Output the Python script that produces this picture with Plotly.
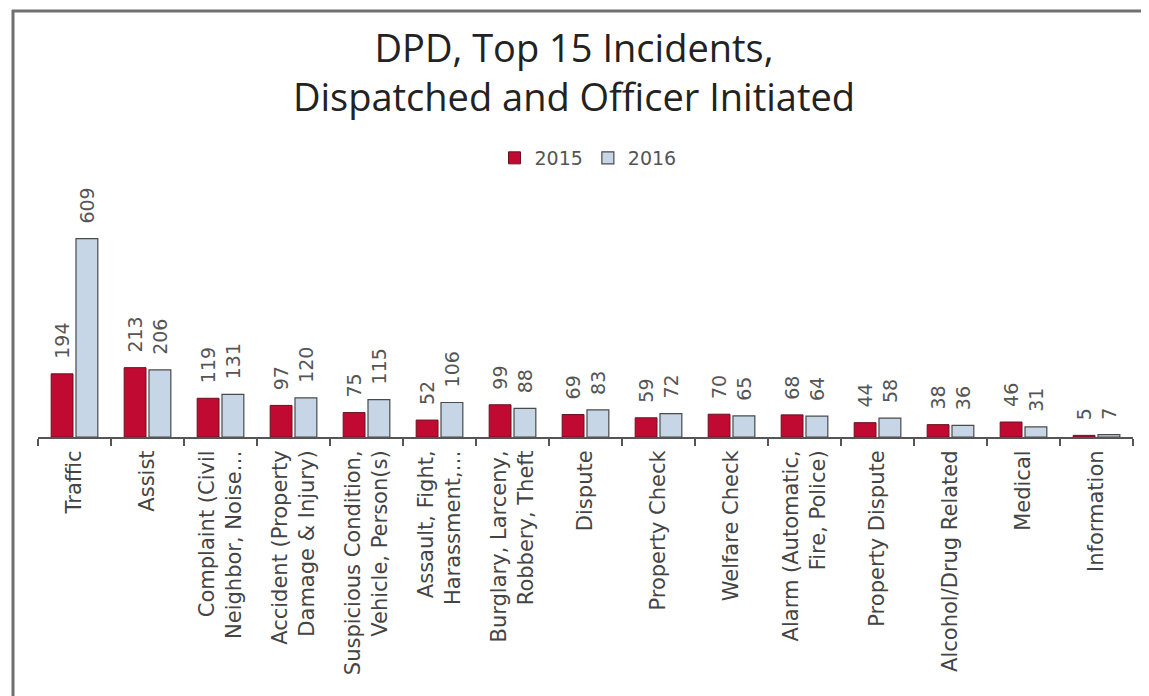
import plotly.graph_objects as go

categories = [
    "Traffic",
    "Assist",
    "Complaint (Civil<br>Neighbor, Noise…",
    "Accident (Property<br>Damage & Injury)",
    "Suspicious Condition,<br>Vehicle, Person(s)",
    "Assault, Fight,<br>Harassment,…",
    "Burglary, Larceny,<br>Robbery, Theft",
    "Dispute",
    "Property Check",
    "Welfare Check",
    "Alarm (Automatic,<br>Fire, Police)",
    "Property Dispute",
    "Alcohol/Drug Related",
    "Medical",
    "Information",
]
values_2015 = [194, 213, 119, 97, 75, 52, 99, 69, 59, 70, 68, 44, 38, 46, 5]
values_2016 = [609, 206, 131, 120, 115, 106, 88, 83, 72, 65, 64, 58, 36, 31, 7]

RED = "#C00A32"
BLUE = "#C7D6E6"
EDGE = "#4a4a4a"
LABEL_FONT = dict(family="DejaVu Sans", size=19, color="#555555")
PAD = "\u00a0\u00a0"  # small gap between bar top and its value label

# page body has an 8px margin, so the figure is drawn 8px in from the window edge
OFF = 8
W, H = 1149 - OFF, 696 - OFF
# plot area in window pixels: x 38..1133, y 170..437
L, R = 38 - OFF, W - (1133 - OFF)
T, B = 170 - OFF, H - (437 - OFF)
pw, ph = W - L - R, H - T - B


def px_x(x):
    return (x - OFF - L) / pw


def px_y(y):
    return (H - B - (y - OFF)) / ph


fig = go.Figure()
fig.add_trace(go.Bar(
    name="2015", x=categories, y=values_2015,
    marker=dict(color=RED, line=dict(color="#6a1020", width=1)),
    text=[PAD + str(v) for v in values_2015], textposition="outside", textangle=-90,
    textfont=LABEL_FONT, constraintext="none", cliponaxis=False,
))
fig.add_trace(go.Bar(
    name="2016", x=categories, y=values_2016,
    marker=dict(color=BLUE, line=dict(color=EDGE, width=1.2)),
    text=[PAD + str(v) for v in values_2016], textposition="outside", textangle=-90,
    textfont=LABEL_FONT, constraintext="none", cliponaxis=False,
))

fig.update_layout(
    width=W, height=H,
    margin=dict(l=L, r=R, t=T, b=B),
    paper_bgcolor="white", plot_bgcolor="white",
    barmode="group", bargap=0.32, bargroupgap=0.12,
    title=dict(
        text="DPD, Top 15 Incidents,<br>Dispatched and Officer Initiated",
        x=px_x(574) * pw / W + L / W, xanchor="center",
        y=1 - 54 / H, yanchor="middle",
        font=dict(family="Open Sans", size=38, color="#222222"),
    ),
    legend=dict(
        orientation="h", x=px_x(588), xanchor="center", y=px_y(158), yanchor="middle",
        font=dict(family="DejaVu Sans", size=19, color="#555555"),
        itemwidth=30, tracegroupgap=0, bgcolor="rgba(0,0,0,0)",
    ),
    xaxis=dict(
        type="category", showline=True, linecolor="#555555", linewidth=2,
        ticks="outside", tickson="boundaries", ticklen=7, tickcolor="#555555", tickwidth=2,
        tickangle=-90, tickfont=dict(family="DejaVu Sans", size=21, color="#444444"),
        showgrid=False, ticklabelstandoff=3,
    ),
    yaxis=dict(range=[0, 820], visible=False, showgrid=False, zeroline=False),
    showlegend=True,
    shapes=[
        dict(type="line", xref="paper", yref="paper", x0=px_x(12), x1=px_x(1149),
             y0=px_y(11), y1=px_y(11), line=dict(color="#707070", width=3)),
        dict(type="line", xref="paper", yref="paper", x0=px_x(13), x1=px_x(13),
             y0=px_y(10), y1=px_y(696), line=dict(color="#707070", width=3)),
    ],
)

fig.write_html("out.html")
